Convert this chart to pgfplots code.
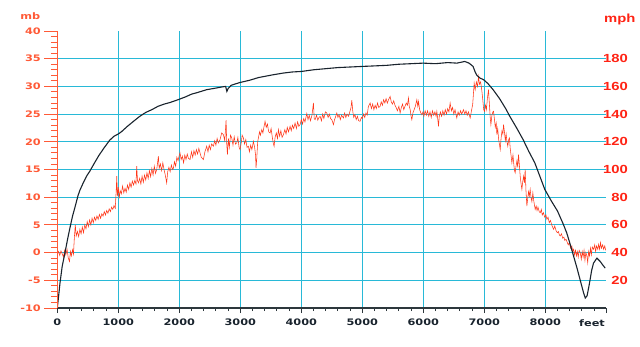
\documentclass[border=0pt]{standalone}
\usepackage{fontspec}
\usepackage{pgfplots}
\pgfplotsset{compat=1.18}
\newfontfamily\lblb{DejaVu Sans}[FakeStretch=1.26]
\newfontfamily\rlb{Liberation Sans}[FakeStretch=1.26]
\definecolor{gridc}{RGB}{40,185,215}
\definecolor{orng}{RGB}{255,90,55}
\definecolor{rlab}{RGB}{255,35,20}
\definecolor{redc}{RGB}{255,55,25}
\definecolor{blk}{RGB}{25,35,45}
\definecolor{xax}{RGB}{45,55,60}
\newcommand{\lf}{\lblb\bfseries\fontsize{9}{10}\selectfont}
\newcommand{\rf}{\rlb\bfseries\fontsize{11.8}{12}\selectfont}
\begin{document}
\begin{tikzpicture}[x=1bp,y=1bp]
\useasboundingbox (-57.3,-38) rectangle (582.7,308);
% main axis: grid, data, x axis
\begin{axis}[at={(0,0)},anchor=south west,scale only axis,
  width=549bp,height=277bp,
  xmin=0,xmax=9000,ymin=-10,ymax=40,
  axis x line*=bottom, axis y line*=left,
  x axis line style={xax,line width=1.1bp,-},
  y axis line style={draw=none},
  xtick={0,1000,...,8000},
  xticklabels={0,1000,2000,3000,4000,5000,6000,7000,8000},
  extra x ticks={9000}, extra x tick labels={},
  extra x tick style={grid=none},
  minor xtick={200,400,...,8800},
  ytick={-5,0,...,35}, yticklabels={},
  ytick style={draw=none},
  xtick style={xax,line width=0.9bp},
  tick align=outside, major tick length=5bp, minor tick length=3bp,
  xmajorgrids, ymajorgrids,
  major grid style={gridc,line width=0.9bp},
  xticklabel style={font=\lf,text=blk,yshift=-2bp},
]
\addplot[redc,line width=0.55bp] coordinates {
(0,-0.3)(20,0.2)(40,-0.5)(60,0.3)(80,-0.2)(100,-0.8)(120,0.4)(140,-0.4)(160,0.6)(180,-1.0)
(200,-1.6)(215,0.2)(230,-0.6)(250,0.5)(265,-0.3)(280,2.8)(295,5.0)(310,3.0)(330,3.8)(350,2.9)
(370,4.2)(390,3.4)(410,4.6)(430,3.6)(450,5.0)(470,4.3)(490,5.6)(510,4.7)(530,5.9)(550,5.0)
(570,6.2)(590,5.4)(610,6.4)(630,5.8)(650,6.6)(670,6.0)(690,6.9)(710,6.2)(730,7.0)(750,6.6)
(770,7.4)(790,6.8)(810,7.6)(830,7.1)(850,7.9)(870,7.4)(890,8.2)(910,7.8)(930,8.5)(950,8.0)
(965,11.0)(975,13.8)(985,10.2)(1000,11.8)(1015,9.8)(1030,11.2)(1050,10.6)(1070,12.0)(1090,10.8)(1110,11.6)
(1130,10.9)(1150,12.2)(1170,11.4)(1190,12.6)(1210,11.8)(1230,12.9)(1250,12.2)(1270,13.0)(1290,12.4)(1302,15.6)
(1315,13.0)(1330,12.6)(1350,13.4)(1370,12.4)(1390,13.8)(1410,12.7)(1430,14.0)(1450,13.1)(1470,14.4)(1490,13.4)
(1510,14.8)(1530,13.7)(1550,15.2)(1570,14.0)(1590,15.6)(1610,14.3)(1630,15.0)(1657,17.4)(1670,15.2)(1690,16.0)
(1710,14.8)(1730,16.2)(1750,15.0)(1770,14.0)(1793,12.6)(1810,14.6)(1830,15.4)(1850,14.6)(1870,15.8)(1890,15.0)
(1903,15.2)(1920,16.4)(1940,15.6)(1960,17.2)(1980,16.6)(2000,17.6)(2012,18.0)(2030,16.8)(2050,17.4)(2070,16.2)
(2090,17.6)(2110,16.8)(2130,17.8)(2150,17.0)(2176,16.8)(2200,18.2)(2220,17.2)(2240,18.4)(2260,17.6)(2280,18.6)
(2300,17.8)(2320,18.8)(2340,18.0)(2360,17.2)(2395,16.8)(2420,18.2)(2449,19.2)(2470,18.2)(2490,19.4)(2510,18.6)
(2530,19.6)(2559,19.2)(2580,20.2)(2600,19.4)(2620,20.6)(2640,19.8)(2668,20.4)(2695,21.6)(2723,21.3)(2745,20.2)
(2767,23.9)(2778,19.6)(2789,17.7)(2805,20.6)(2820,19.0)(2840,21.2)(2860,20.7)(2880,19.4)(2900,20.9)(2920,19.6)
(2942,19.8)(2960,20.8)(2980,19.0)(2996,18.6)(3015,19.8)(3030,21.2)(3051,20.7)(3070,19.6)(3090,20.4)(3110,19.0)
(3133,19.2)(3150,18.2)(3170,19.4)(3190,18.6)(3215,20.1)(3235,19.0)(3250,17.6)(3258,15.3)(3270,17.0)(3285,20.0)
(3297,20.7)(3315,21.8)(3330,21.2)(3352,22.2)(3370,21.6)(3390,22.8)(3406,23.7)(3425,22.6)(3445,23.2)(3465,21.8)
(3488,21.6)(3505,22.4)(3525,20.8)(3540,19.8)(3554,19.2)(3570,20.8)(3590,21.6)(3610,20.6)(3625,22.2)(3645,21.0)
(3665,22.0)(3685,20.8)(3707,21.3)(3730,22.2)(3750,21.4)(3770,22.6)(3790,21.8)(3816,22.8)(3835,22.0)(3855,23.0)
(3875,22.4)(3898,23.4)(3920,22.4)(3940,23.6)(3960,22.8)(3980,23.1)(4000,24.0)(4020,23.2)(4040,24.2)(4060,23.6)
(4090,25.1)(4110,24.0)(4130,24.8)(4150,23.8)(4175,24.8)(4199,27.0)(4212,24.2)(4226,24.0)(4250,24.8)(4270,23.9)
(4290,24.4)(4308,24.6)(4330,23.8)(4350,25.0)(4370,24.2)(4395,25.4)(4418,25.2)(4440,24.4)(4460,25.0)(4480,24.2)
(4500,24.0)(4527,23.1)(4545,24.0)(4565,24.6)(4582,25.2)(4600,24.4)(4620,24.9)(4640,24.0)(4660,24.8)(4691,24.3)
(4710,25.2)(4730,24.4)(4750,25.0)(4775,24.6)(4800,25.6)(4815,26.2)(4828,27.5)(4845,25.4)(4860,24.4)(4880,24.9)
(4900,24.0)(4920,24.6)(4940,23.8)(4964,23.7)(4985,24.4)(5000,24.2)(5020,25.0)(5040,24.4)(5060,25.2)(5080,24.8)
(5100,26.4)(5128,27.0)(5150,26.0)(5170,26.8)(5190,25.8)(5210,26.6)(5230,26.0)(5250,27.0)(5270,26.2)(5292,26.4)
(5310,27.2)(5330,26.6)(5350,27.6)(5370,27.0)(5390,27.8)(5410,27.0)(5430,27.6)(5456,28.2)(5475,27.2)(5495,26.8)
(5515,27.4)(5535,26.6)(5555,26.2)(5575,25.6)(5600,26.4)(5620,25.2)(5640,26.2)(5660,26.8)(5680,25.8)(5700,26.4)
(5720,27.0)(5740,26.6)(5757,27.9)(5770,26.4)(5785,25.8)(5800,24.6)(5812,24.0)(5830,25.2)(5850,25.8)(5870,26.4)
(5894,27.6)(5910,26.4)(5921,27.3)(5940,25.8)(5960,25.2)(5976,24.9)(5995,25.4)(6010,24.6)(6030,25.6)(6050,24.8)
(6070,25.6)(6090,24.6)(6110,25.4)(6130,24.4)(6150,25.6)(6170,24.8)(6190,25.4)(6210,24.6)(6222,25.5)(6236,24.2)
(6249,22.8)(6262,24.6)(6280,25.4)(6300,24.6)(6320,25.6)(6340,24.8)(6360,25.8)(6380,25.0)(6400,26.0)(6420,25.4)
(6440,27.0)(6460,25.6)(6480,26.2)(6500,25.0)(6520,25.8)(6549,24.3)(6570,25.4)(6590,24.8)(6610,25.6)(6630,25.0)
(6659,25.8)(6680,25.0)(6700,25.6)(6720,24.8)(6740,25.4)(6768,24.3)(6790,25.6)(6810,26.8)(6834,30.6)(6850,29.4)
(6870,30.8)(6890,30.0)(6905,31.8)(6920,30.4)(6940,30.8)(6960,29.2)(6975,27.6)(6990,25.8)(7004,25.5)(7020,26.6)
(7035,25.8)(7050,27.8)(7069,29.4)(7080,27.4)(7097,24.4)(7108,23.1)(7125,24.8)(7140,25.4)(7151,25.5)(7165,24.2)
(7180,22.6)(7195,23.4)(7206,21.3)(7220,22.4)(7235,20.4)(7250,19.4)(7261,18.6)(7275,20.6)(7290,22.0)(7305,21.4)
(7315,23.1)(7330,21.8)(7345,20.2)(7358,21.4)(7370,20.1)(7385,19.2)(7400,20.4)(7412,20.7)(7425,18.8)(7440,17.4)
(7452,16.2)(7470,17.6)(7485,15.8)(7495,14.8)(7506,14.4)(7520,15.6)(7535,16.6)(7548,15.4)(7561,17.7)(7575,15.8)
(7590,13.6)(7603,12.4)(7616,11.4)(7630,12.8)(7645,13.8)(7658,12.6)(7670,15.0)(7683,11.2)(7698,8.4)(7712,9.8)
(7725,11.0)(7738,10.2)(7752,11.4)(7765,10.0)(7780,9.2)(7796,10.8)(7810,9.4)(7822,8.6)(7834,7.8)(7850,8.4)
(7865,7.6)(7880,8.2)(7900,7.4)(7917,7.2)(7935,7.8)(7950,6.8)(7970,7.2)(7990,6.4)(8010,6.8)(8026,6.0)
(8045,6.4)(8065,5.4)(8085,5.8)(8105,5.0)(8120,4.6)(8136,4.2)(8155,4.8)(8175,4.0)(8195,3.6)(8215,3.8)
(8230,3.2)(8245,3.0)(8265,3.4)(8285,2.6)(8305,2.8)(8320,2.2)(8340,2.4)(8355,2.0)(8375,1.4)(8395,1.8)
(8415,0.8)(8435,1.2)(8450,0.2)(8464,0.6)(8480,-0.4)(8495,0.4)(8510,-0.6)(8525,0.2)(8540,-0.8)(8555,0.4)
(8573,0.0)(8590,-1.2)(8605,0.2)(8620,-0.8)(8635,0.4)(8650,-1.4)(8665,0.0)(8682,-0.6)(8695,-1.8)(8710,0.2)
(8725,-0.6)(8740,0.8)(8755,-0.4)(8770,1.0)(8792,0.6)(8810,1.4)(8825,0.2)(8840,1.2)(8860,0.6)(8874,1.5)
(8890,0.6)(8905,1.8)(8920,0.8)(8940,1.4)(8956,0.6)(8975,1.2)(8990,0.4)
};
\addplot[blk,line width=1.1bp] coordinates {
(0,-10)(20,-8)(44,-5.5)(80,-2.5)(126,0)(170,2.5)(208,4.5)(250,6.6)(290,8.2)(340,10.3)
(372,11.3)(430,12.7)(480,13.8)(533,14.7)(600,16)(680,17.5)(760,18.8)(860,20.3)(930,21.0)(997,21.4)
(1050,21.8)(1150,22.8)(1250,23.7)(1352,24.6)(1450,25.3)(1550,25.8)(1650,26.4)(1750,26.8)(1850,27.1)(1980,27.6)
(2100,28.1)(2200,28.6)(2300,28.9)(2446,29.4)(2600,29.7)(2700,29.9)(2760,30.0)(2780,29.1)(2800,29.6)(2850,30.2)
(2992,30.7)(3150,31.1)(3300,31.6)(3538,32.1)(3700,32.4)(3850,32.6)(4003,32.7)(4200,33.0)(4400,33.2)(4603,33.4)
(4800,33.5)(4987,33.6)(5200,33.7)(5400,33.8)(5600,34.0)(5800,34.1)(5997,34.2)(6200,34.1)(6400,34.3)(6550,34.2)
(6680,34.5)(6750,34.2)(6816,33.6)(6850,32.6)(6878,32.0)(6930,31.5)(6990,31.2)(7060,30.5)(7145,29.4)(7250,27.8)
(7350,26.0)(7418,24.6)(7530,22.5)(7636,20.4)(7728,18.3)(7828,16.2)(7910,13.8)(7992,11.4)(8100,9.3)(8200,7.5)
(8292,5.2)(8350,3.6)(8400,1.8)(8460,-0.5)(8520,-2.8)(8580,-5.3)(8626,-7.2)(8655,-8.2)(8685,-7.8)(8720,-5.8)
(8760,-3.2)(8790,-1.9)(8846,-1.0)(8900,-1.6)(8940,-2.2)(8982,-2.8)
};
\end{axis}
% left y axis
\begin{axis}[at={(0,0)},anchor=south west,scale only axis,
  width=549bp,height=277bp,
  xmin=0,xmax=9000,ymin=-10,ymax=40,
  axis x line=none, axis y line*=left,
  y axis line style={orng,line width=1.1bp,-},
  ytick={-10,-5,...,40},
  yticklabels={-10,-5,0,5,10,15,20,25,30,35,40},
  minor ytick={-9,-8,...,39},
  tick align=outside, major tick length=13bp, minor tick length=6.5bp,
  ytick style={orng,line width=0.9bp},
  yticklabel style={font=\lf,text=orng},
  clip=false,
]
\addplot[draw=none] coordinates {(0,0)};
\node[font=\lf,text=orng] at (rel axis cs:0,1) [xshift=-27bp,yshift=15bp] {mb};
\node[font=\lf,text=blk] at (rel axis cs:0.974,0) [yshift=-15bp] {feet};
\node[font=\rf,text=rlab] at (rel axis cs:1,1) [xshift=13.5bp,yshift=12bp] {mph};
\end{axis}
% right labels
\begin{axis}[at={(0,0)},anchor=south west,scale only axis,
  width=549bp,height=277bp,
  xmin=0,xmax=9000,ymin=0,ymax=200,
  axis x line=none, axis y line*=right,
  y axis line style={draw=none},
  ytick={20,40,...,180},
  yticklabels={20,40,60,80,100,120,140,160,180},
  major tick length=0bp, ytick style={draw=none},
  yticklabel style={font=\rf,text=rlab,anchor=east,xshift=25bp},
]
\addplot[draw=none] coordinates {(0,100)};
\end{axis}
\end{tikzpicture}
\end{document}
